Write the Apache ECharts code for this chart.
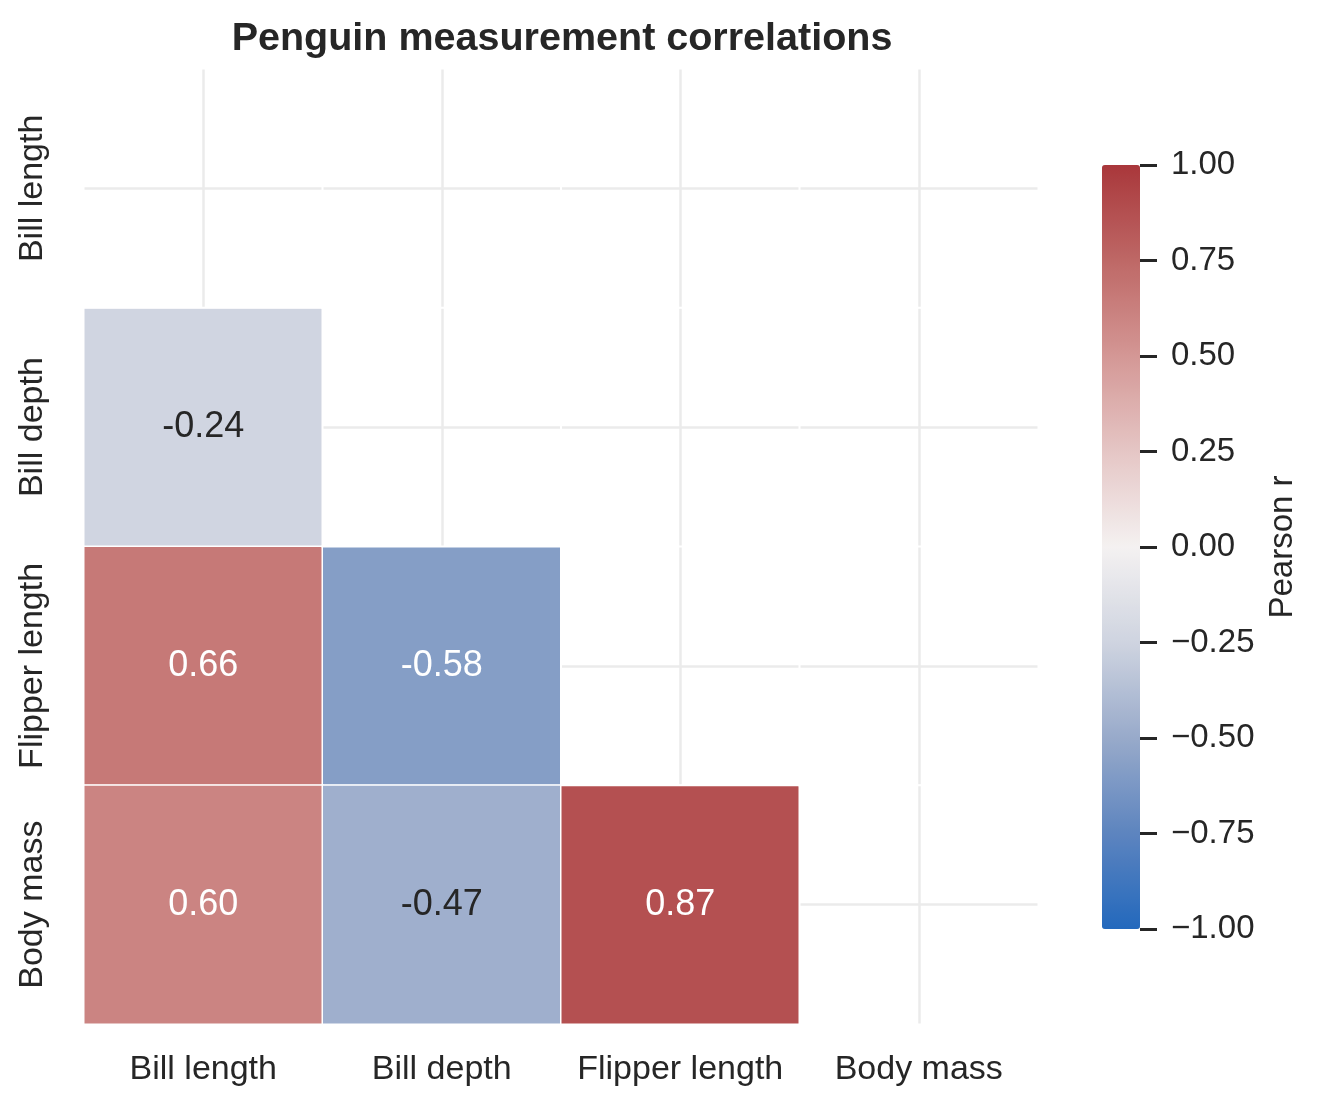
<!DOCTYPE html>
<html>
<head>
<meta charset="utf-8">
<script src="https://cdn.jsdelivr.net/npm/echarts@6/dist/echarts.min.js"></script>
<style>html,body{margin:0;padding:0;background:#fff;}#c{width:1324px;height:1108px;}</style>
</head>
<body>
<div id="c"></div>
<script>
const variables = ['Bill length', 'Bill depth', 'Flipper length', 'Body mass'];
// lower-triangle correlations: [column, row, r]
const correlations = [
  [0, 1, -0.24],
  [0, 2, 0.66], [1, 2, -0.58],
  [0, 3, 0.60], [1, 3, -0.47], [2, 3, 0.87]
];
const colorbarTicks = [-1, -0.75, -0.5, -0.25, 0, 0.25, 0.5, 0.75, 1];
const vlagStops = ['#2369bd', '#5d84bf', '#98aaca', '#cfd4e0', '#f4f1f1', '#e5c6c5', '#d49795', '#be6866', '#a9373b'];

const TXT = '#262626';
const FONT = '"Liberation Sans", Arial, sans-serif';

const cellData = correlations.map(d => ({
  value: d,
  label: { color: Math.abs(d[2]) > 0.5 ? '#ffffff' : TXT }
}));
const filled = new Set(correlations.map(d => d[0] + ',' + d[1]));
const maskData = [];
variables.forEach((_, r) => variables.forEach((_, c) => {
  if (!filled.has(c + ',' + r)) maskData.push([c, r, 0]);
}));

const chart = echarts.init(document.getElementById('c'), null, { renderer: 'canvas' });
chart.setOption({
  backgroundColor: '#ffffff',
  textStyle: { fontFamily: FONT },
  title: {
    text: 'Penguin measurement correlations',
    left: 557, top: 14, textAlign: 'center',
    textStyle: { fontFamily: FONT, fontSize: 39.5, fontWeight: 'bold', color: TXT }
  },
  grid: [
    { left: 84, top: 69, width: 954, height: 955 },
    { left: 1102, top: 165, width: 38, height: 764 }
  ],
  xAxis: [
    {
      type: 'category', data: variables, gridIndex: 0,
      axisLine: { show: false }, axisTick: { show: false },
      axisLabel: { interval: 0, fontSize: 34, color: TXT, margin: 29, fontFamily: FONT },
      splitLine: { show: true, interval: 0, alignWithLabel: true, lineStyle: { color: '#ebebeb', width: 2.5 } }
    },
    { type: 'value', gridIndex: 1, show: false, min: 0, max: 1 }
  ],
  yAxis: [
    {
      type: 'category', data: variables, gridIndex: 0, inverse: true,
      axisLine: { show: false }, axisTick: { show: false },
      axisLabel: { interval: 0, fontSize: 34, color: TXT, margin: 34, rotate: 90, fontFamily: FONT },
      splitLine: { show: true, interval: 0, alignWithLabel: true, lineStyle: { color: '#ebebeb', width: 2.5 } }
    },
    {
      type: 'value', gridIndex: 1, position: 'right', min: -1, max: 1, interval: 0.25,
      axisLine: { show: false, onZero: false },
      axisTick: { show: true, inside: false, length: 17, lineStyle: { color: TXT, width: 3 } },
      splitLine: { show: false },
      axisLabel: {
        fontSize: 33, color: TXT, margin: 31, fontFamily: FONT,
        formatter: v => (v < 0 ? '\u2212' : '') + Math.abs(v).toFixed(2)
      },
      name: 'Pearson r', nameLocation: 'middle', nameRotate: 90, nameGap: 126,
      nameTextStyle: { fontSize: 33, color: TXT, fontFamily: FONT }
    }
  ],
  visualMap: {
    type: 'continuous', seriesIndex: 0, min: -1, max: 1,
    calculable: false, hoverLink: false, realtime: false,
    orient: 'vertical', left: 1102, top: 165, padding: 0,
    itemWidth: 38, itemHeight: 764, text: null, showLabel: false,
    inRange: { color: vlagStops }
  },
  series: [
    {
      type: 'heatmap', xAxisIndex: 0, yAxisIndex: 0,
      data: cellData,
      itemStyle: { borderColor: '#ffffff', borderWidth: 1.5 },
      label: {
        show: true, fontSize: 36, fontFamily: FONT,
        formatter: p => p.value[2].toFixed(2)
      },
      emphasis: { disabled: true }
    },
    {
      type: 'heatmap', xAxisIndex: 0, yAxisIndex: 0,
      data: maskData,
      itemStyle: { color: 'rgba(0,0,0,0)', borderColor: '#ffffff', borderWidth: 1.5 },
      label: { show: false },
      emphasis: { disabled: true },
      silent: true
    }
  ]
});
</script>
</body>
</html>
